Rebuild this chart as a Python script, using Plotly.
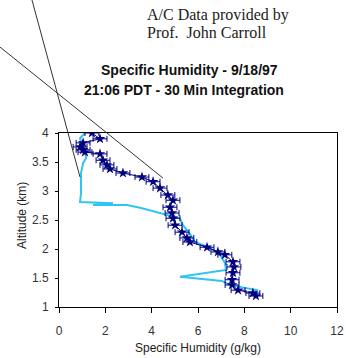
import plotly.graph_objects as go

# Aircraft profile (navy, with markers)
ac_q = [1.42, 1.77, 1.04, 0.91, 1.04, 1.12, 1.77, 1.90, 2.07, 2.20, 2.76, 3.58, 4.06, 4.36,
        4.70, 4.92, 4.79, 4.88, 4.92, 5.01, 5.31, 5.52, 5.65, 6.39, 6.86, 7.16, 7.51, 7.55,
        7.51, 7.47, 7.47, 7.73, 8.37, 8.50]
ac_alt = [4.00, 3.90, 3.83, 3.76, 3.71, 3.67, 3.64, 3.53, 3.45, 3.38, 3.31, 3.24, 3.16, 3.05,
          2.93, 2.84, 2.72, 2.62, 2.53, 2.41, 2.29, 2.19, 2.12, 2.03, 1.95, 1.90, 1.78, 1.69,
          1.59, 1.47, 1.38, 1.29, 1.24, 1.19]

# Integrated profile (light blue line)
int_q = [1.12, 0.91, 0.95, 1.12, 1.17, 1.04, 0.95, 0.95, 0.95, 0.91, 2.33, 1.47, 2.93, 3.50,
         4.36, 4.79, 5.22, 5.35, 5.65, 5.87, 6.52, 6.95, 7.16, 7.21, 5.22, 7.03, 7.38, 8.03,
         8.55, 8.55]
int_alt = [4.00, 3.91, 3.83, 3.69, 3.57, 3.48, 3.31, 3.14, 2.97, 2.81, 2.79, 2.76, 2.76, 2.71,
           2.62, 2.57, 2.53, 2.41, 2.26, 2.12, 2.02, 1.90, 1.76, 1.64, 1.52, 1.45, 1.38, 1.33,
           1.29, 1.22]

x_ticks = [0, 2, 4, 6, 8, 10, 12]
y_ticks = [1, 1.5, 2, 2.5, 3, 3.5, 4]

fig = go.Figure()
fig.add_trace(go.Scatter(x=int_q, y=int_alt, mode="lines",
                         line=dict(color="#2EC4F4", width=2), showlegend=False))
fig.add_trace(go.Scatter(x=ac_q, y=ac_alt, mode="lines+markers",
                         line=dict(color="#000080", width=1),
                         marker=dict(symbol="star", size=8, color="#000080"),
                         error_x=dict(type="constant", value=0.3, color="#000080",
                                      thickness=1, width=3),
                         showlegend=False))

fig.update_layout(
    width=346, height=358,
    margin=dict(l=59, r=9, t=133, b=51, autoexpand=False),
    paper_bgcolor="white", plot_bgcolor="white",
    font=dict(family="Liberation Sans, Arial", color="#222"),
    xaxis=dict(range=[0, 12], tickvals=x_ticks, showgrid=False, zeroline=False,
               showline=True, linecolor="black", linewidth=1, mirror=True,
               ticks="outside", ticklen=5, tickcolor="black", automargin=False,
               ticklabelstandoff=8,
               tickfont=dict(size=12, color="#333")),
    yaxis=dict(range=[1, 4], tickvals=y_ticks, showgrid=False, zeroline=False,
               showline=True, linecolor="black", linewidth=1, mirror=True,
               ticks="outside", ticklen=3, tickcolor="black", automargin=False,
               ticklabelstandoff=4,
               tickfont=dict(size=12, color="#333")),
    shapes=[
        dict(type="line", xref="paper", yref="paper", x0=-0.0971, y0=1.764,
             x1=0.0755, y1=0.747, line=dict(color="#333", width=1)),
        dict(type="line", xref="paper", yref="paper", x0=-0.2122, y0=1.494,
             x1=0.3741, y1=0.741, line=dict(color="#333", width=1)),
    ],
    annotations=[
        dict(text="A/C Data provided by", xref="paper", yref="paper", x=0.309, y=1.678,
             xanchor="left", yanchor="middle", showarrow=False,
             font=dict(family="Liberation Serif, Times New Roman", size=16, color="#222")),
        dict(text="Prof.  John Carroll", xref="paper", yref="paper", x=0.309, y=1.575,
             xanchor="left", yanchor="middle", showarrow=False,
             font=dict(family="Liberation Serif, Times New Roman", size=16, color="#222")),
        dict(text="<b>Specific Humidity - 9/18/97</b>", xref="paper", yref="paper",
             x=0.468, y=1.362, xanchor="center", yanchor="middle", showarrow=False,
             font=dict(size=14, color="#111")),
        dict(text="<b>21:06 PDT - 30 Min Integration</b>", xref="paper", yref="paper",
             x=0.450, y=1.247, xanchor="center", yanchor="middle", showarrow=False,
             font=dict(size=14, color="#111")),
        dict(text="Specific Humidity (g/kg)", xref="paper", yref="paper",
             x=0.5, y=-0.236, xanchor="center", yanchor="middle", showarrow=False,
             font=dict(size=12, color="#222")),
        dict(text="Altitude (km)", xref="paper", yref="paper", textangle=-90,
             x=-0.133, y=0.523, xanchor="center", yanchor="middle", showarrow=False,
             font=dict(size=12, color="#222")),
    ],
)

fig.write_html("out.html", config={"displayModeBar": False},
               post_script="document.body.style.margin='0';document.body.style.overflow='hidden';")
